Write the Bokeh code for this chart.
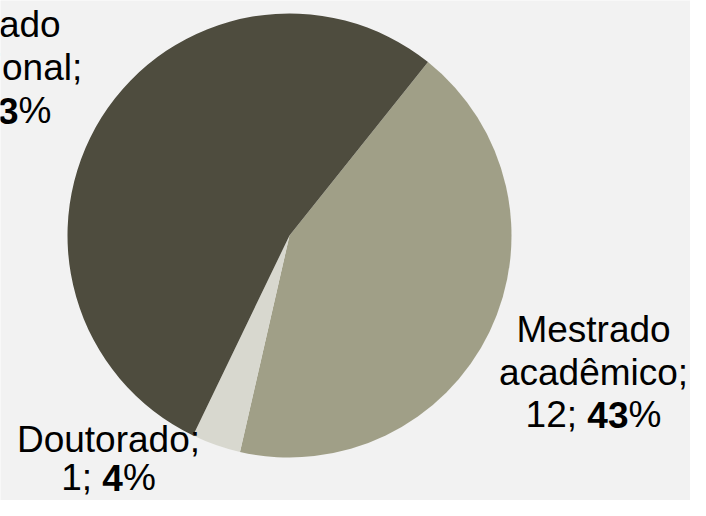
import math
from bokeh.plotting import figure
from bokeh.models import Range1d
from bokeh.core.properties import value
from bokeh.embed import file_html
from bokeh.resources import INLINE

# ---- data ----
categories = ["Mestrado acadêmico", "Doutorado", "Mestrado profissional"]
counts = [12, 1, 15]
percents = [43, 4, 53]
colors = ["#a09f87", "#d8d8cf", "#4e4c3e"]

# ---- layout (reference pixel coordinates) ----
W, H = 690, 500
cx, cy, R = 289, 235, 222
start_deg = 38.6  # clockwise from 12 o'clock
FS = 37
BASE_FIX = 13  # svg baseline correction
# center x, first baseline y, line spacing
label_pos = [(593, 342, 42.5), (108, 452, 38), (-17, 37, 43)]

def Y(ref_y):
    return H - ref_y

p = figure(width=W, height=H, x_range=Range1d(0, W), y_range=Range1d(0, H),
           output_backend="svg", toolbar_location=None, min_border=0)
p.axis.visible = False
p.grid.visible = False
p.outline_line_color = None
p.background_fill_color = "#f2f2f2"
p.border_fill_color = "#f2f2f2"

total = sum(counts)
theta = start_deg
for c, col in zip(counts, colors):
    span = 360.0 * c / total
    a1 = math.radians(90 - theta)
    a2 = math.radians(90 - theta - span)
    p.wedge(x=cx, y=Y(cy), radius=R, start_angle=a1, end_angle=a2, direction="clock",
            fill_color=col, line_color=None)
    theta += span

# Arial / Liberation Sans advance widths (em)
AW = {'0': .556, '1': .556, '2': .556, '3': .556, '4': .556, '5': .556, '6': .556,
      '7': .556, '8': .556, '9': .556, ';': .278, ' ': .278, '%': .889}
def width(s):
    return sum(AW.get(ch, .556) for ch in s) * FS

font = value("Liberation Sans")
for name, cnt, pct, (lx, ly, lsp) in zip(categories, counts, percents, label_pos):
    words = name.split(" ")
    if len(words) > 1:
        lines = [" ".join(words[:-1]), words[-1] + ";"]
    else:
        lines = [name + ";"]
    y = ly - BASE_FIX
    for ln in lines:
        p.text(x=[lx], y=[Y(y)], text=[ln], text_font=font, text_font_size=f"{FS}px",
               text_align="center", text_baseline="alphabetic", text_color="black")
        y += lsp
    a = f"{cnt}; "
    b = f"{pct}"
    c = "%"
    tw = width(a) + width(b) + width(c)
    x0 = lx - tw / 2
    p.text(x=[x0], y=[Y(y)], text=[a], text_font=font, text_font_size=f"{FS}px",
           text_align="left", text_baseline="alphabetic", text_color="black")
    p.text(x=[x0 + width(a)], y=[Y(y)], text=[b], text_font=font, text_font_size=f"{FS}px",
           text_font_style="bold", text_align="left", text_baseline="alphabetic", text_color="black")
    p.text(x=[x0 + width(a) + width(b)], y=[Y(y)], text=[c], text_font=font, text_font_size=f"{FS}px",
           text_align="left", text_baseline="alphabetic", text_color="black")

open("out.html", "w").write(file_html(p, INLINE))
